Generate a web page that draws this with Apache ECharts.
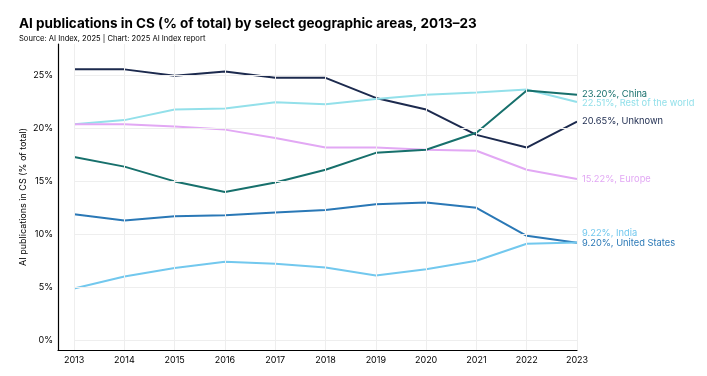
<!DOCTYPE html>
<html>
<head>
<meta charset="utf-8">
<script src="https://cdn.jsdelivr.net/npm/echarts@6/dist/echarts.min.js"></script>
<style>
html,body{margin:0;padding:0;background:#fff;}
#main{width:707px;height:376px;}
</style>
</head>
<body>
<div id="main"></div>
<script>
// years on the x axis
var years = [2013, 2014, 2015, 2016, 2017, 2018, 2019, 2020, 2021, 2022, 2023];

// values (% of total)
var china = [17.3, 16.4, 15.0, 14.0, 14.9, 16.1, 17.7, 18.0, 19.6, 23.6, 23.20];
var restOfWorld = [20.4, 20.8, 21.8, 21.9, 22.5, 22.3, 22.8, 23.2, 23.4, 23.7, 22.51];
var unknown = [25.6, 25.6, 25.0, 25.4, 24.8, 24.8, 22.9, 21.8, 19.4, 18.2, 20.65];
var europe = [20.4, 20.4, 20.2, 19.9, 19.1, 18.2, 18.2, 18.0, 17.9, 16.1, 15.22];
var india = [4.86, 6.0, 6.8, 7.4, 7.2, 6.85, 6.1, 6.7, 7.5, 9.1, 9.22];
var unitedStates = [11.9, 11.3, 11.7, 11.8, 12.05, 12.3, 12.85, 13.0, 12.5, 9.85, 9.20];

var yTicks = [0, 5, 10, 15, 20, 25];

var fontName = 'Inter, "Noto Sans", sans-serif';

function pairs(vals){
	return years.map(function(y, i){ return [y, vals[i]]; });
}

function makeLine(name, vals, color, offset){
	return {
		name: name,
		type: 'line',
		data: pairs(vals),
		symbol: 'none',
		lineStyle: {color: color, width: 2},
		itemStyle: {color: color},
		endLabel: {
			show: true,
			color: color,
			fontFamily: fontName,
			fontSize: 9.3,
			distance: 5,
			offset: offset || [0, 0],
			formatter: function(p){
				return p.value[1].toFixed(2) + '%, ' + name;
			}
		},
		z: 3
	};
}

var chart = echarts.init(document.getElementById('main'));

var option = {
	backgroundColor: '#fff',
	animation: false,
	title: {
		text: 'AI publications in CS (% of total) by select geographic areas, 2013\u201323',
		subtext: 'Source: AI Index, 2025 | Chart: 2025 AI Index report',
		left: 14,
		top: 12,
		itemGap: 4,
		textStyle: {fontFamily: fontName, fontSize: 13.5, fontWeight: 'bold', color: '#000'},
		subtextStyle: {fontFamily: fontName, fontSize: 7.6, color: '#000'}
	},
	grid: {left: 58, right: 130, top: 44, bottom: 26},
	xAxis: {
		type: 'value',
		min: 2012.68,
		max: 2023,
		axisLine: {show: true, onZero: false, lineStyle: {color: '#000', width: 1.2}},
		axisTick: {show: false},
		axisLabel: {
			fontFamily: fontName, fontSize: 9, color: '#000', margin: 6,
			customValues: years,
			formatter: function(v){ return String(Math.round(v)); }
		},
		splitLine: {show: false}
	},
	yAxis: {
		type: 'value',
		min: -0.95,
		max: 28,
		name: 'AI publications in CS (% of total)',
		nameLocation: 'middle',
		nameGap: 30,
		nameMoveOverlap: false,
		nameTextStyle: {fontFamily: fontName, fontSize: 9, color: '#000'},
		axisLine: {show: true, onZero: false, lineStyle: {color: '#000', width: 1.2}},
		axisTick: {show: false},
		axisLabel: {
			fontFamily: fontName, fontSize: 9, color: '#000', margin: 5,
			customValues: yTicks,
			formatter: function(v){ return Math.round(v) + '%'; }
		},
		splitLine: {show: false}
	},
	series: [
		// light grid lines drawn from the tick arrays
		{
			type: 'line',
			data: [],
			silent: true,
			markLine: {
				silent: true,
				symbol: 'none',
				label: {show: false},
				lineStyle: {color: '#eeeeee', width: 1, type: 'solid'},
				data: years.map(function(y){ return {xAxis: y}; })
					.concat(yTicks.map(function(t){ return [{coord: [2013, t]}, {coord: [2023, t]}]; }))
			},
			z: 1
		},
		makeLine('Unknown', unknown, '#1c2a4e'),
		makeLine('Rest of the world', restOfWorld, '#93e0ea', [0, 1]),
		makeLine('Europe', europe, '#e2a8f4'),
		makeLine('United States', unitedStates, '#2a78b6', [0, 0]),
		makeLine('India', india, '#72c8ee', [0, -9]),
		makeLine('China', china, '#17706c', [0, -1])
	]
};

chart.setOption(option);

window.addEventListener('resize', function(){
	chart.resize();
});
</script>
</body>
</html>
